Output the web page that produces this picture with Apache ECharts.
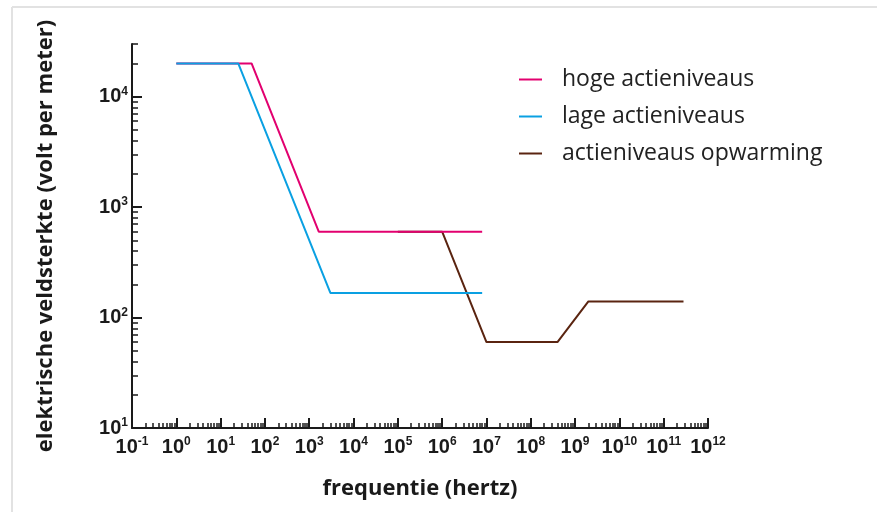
<!DOCTYPE html>
<html>
<head>
<meta charset="utf-8">
<script src="https://cdn.jsdelivr.net/npm/echarts@6/dist/echarts.min.js"></script>
<style>
    html, body { margin: 0; padding: 0; background: #fff; }
    #chart { width: 877px; height: 512px; }
</style>
</head>
<body>
<div id="chart"></div>
<script>
// frequencies in Hz, field strength in V/m
var freqHoge = [1, 50, 1640, 8e6];
var valHoge = [20000, 20000, 600, 600];
var freqLage = [1, 25, 3000, 8e6];
var valLage = [20000, 20000, 167, 167];
var freqWarm = [1e5, 1e6, 1e7, 4e8, 2e9, 2.8e11];
var valWarm = [600, 600, 60, 60, 140, 140];

var seriesNames = ['hoge actieniveaus', 'lage actieniveaus', 'actieniveaus opwarming'];
var xMajor = [0.1, 1, 10, 100, 1e3, 1e4, 1e5, 1e6, 1e7, 1e8, 1e9, 1e10, 1e11, 1e12];
var yMajor = [10, 100, 1000, 10000];

var labelFont = '"Liberation Sans", Arial, sans-serif';
var textFont = '"Open Sans", "Noto Sans", sans-serif';

function minorTicks(majors, top) {
    var out = [];
    for (var i = 0; i < majors.length; i++) {
        for (var m = 2; m <= 9; m++) {
            var v = majors[i] * m;
            if (v <= top) out.push(v);
        }
    }
    return out;
}

function pairs(xs, ys) {
    return xs.map(function(x, i) { return [x, ys[i]]; });
}

function powLabel(v) {
    var e = Math.round(Math.log(v) / Math.LN10);
    return '{b|10}{s|' + e + '}';
}

var richLabel = {
    b: { fontSize: 20, fontWeight: 'bold', fontFamily: labelFont, color: '#1a1a1a', lineHeight: 22 },
    s: { fontSize: 12, fontWeight: 'bold', fontFamily: labelFont, color: '#1a1a1a', verticalAlign: 'top', lineHeight: 12 }
};

var axisColor = '#1a1a1a';

var chart = echarts.init(document.getElementById('chart'));
var option = {
    backgroundColor: '#fff',
    animation: false,
    grid: { left: 132, right: 169, top: 44, bottom: 84, outerBoundsMode: 'none' },
    graphic: [
        { type: 'line', shape: { x1: 12, y1: 7, x2: 877, y2: 7 }, style: { stroke: '#e2e2e2', lineWidth: 2 } },
        { type: 'line', shape: { x1: 12, y1: 7, x2: 12, y2: 512 }, style: { stroke: '#e2e2e2', lineWidth: 2 } }
    ],
    legend: {
        orient: 'vertical',
        left: 514,
        top: 63,
        itemWidth: 23,
        itemHeight: 2,
        itemGap: 14,
        icon: 'rect',
        data: seriesNames,
        textStyle: { fontFamily: textFont, fontSize: 23, color: '#222', padding: [0, 0, 0, 15], lineHeight: 23 }
    },
    xAxis: [{
        type: 'log',
        position: 'bottom',
        min: 0.1,
        max: 1e12,
        name: 'frequentie (hertz)',
        nameLocation: 'middle',
        nameGap: 50,
        nameTextStyle: { fontFamily: textFont, fontSize: 22, fontWeight: 'bold', color: '#1a1a1a' },
        axisLine: { lineStyle: { color: axisColor, width: 2 } },
        axisTick: { inside: true, length: 5, customValues: minorTicks(xMajor.slice(0, -1), 1e12), lineStyle: { color: axisColor, width: 1.5 } },
        axisLabel: { customValues: xMajor, formatter: powLabel, rich: richLabel, margin: 8 },
        splitLine: { show: false }
    }, {
        type: 'log',
        position: 'bottom',
        offset: 0,
        min: 0.1,
        max: 1e12,
        axisLine: { show: false },
        axisTick: { inside: true, length: 10, customValues: xMajor, lineStyle: { color: axisColor, width: 2 } },
        axisLabel: { show: false },
        splitLine: { show: false }
    }],
    yAxis: [{
        type: 'log',
        position: 'left',
        min: 10,
        max: 30000,
        name: 'elektrische veldsterkte (volt per meter)',
        nameLocation: 'middle',
        nameGap: 75,
        nameTextStyle: { fontFamily: textFont, fontSize: 22, fontWeight: 'bold', color: '#1a1a1a' },
        axisLine: { lineStyle: { color: axisColor, width: 2 } },
        axisTick: { show: true, inside: true, length: 6, customValues: minorTicks(yMajor, 30000), lineStyle: { color: axisColor, width: 1.5 } },
        axisLabel: { customValues: yMajor, formatter: powLabel, rich: richLabel, margin: 4 },
        splitLine: { show: false }
    }, {
        type: 'log',
        position: 'left',
        offset: 0,
        min: 10,
        max: 30000,
        axisLine: { show: false },
        axisTick: { show: true, inside: true, length: 10, customValues: yMajor, lineStyle: { color: axisColor, width: 2 } },
        axisLabel: { show: false },
        splitLine: { show: false }
    }],
    series: [{
        name: seriesNames[0],
        type: 'line',
        z: 3,
        showSymbol: false,
        color: '#e2006f',
        lineStyle: { width: 2 },
        data: pairs(freqHoge, valHoge)
    }, {
        name: seriesNames[1],
        type: 'line',
        z: 4,
        showSymbol: false,
        color: '#0aa0e2',
        lineStyle: { width: 2 },
        data: pairs(freqLage, valLage)
    }, {
        name: seriesNames[2],
        type: 'line',
        z: 2,
        showSymbol: false,
        color: '#5a2410',
        lineStyle: { width: 2 },
        data: pairs(freqWarm, valWarm)
    }]
};
chart.setOption(option);
</script>
</body>
</html>
